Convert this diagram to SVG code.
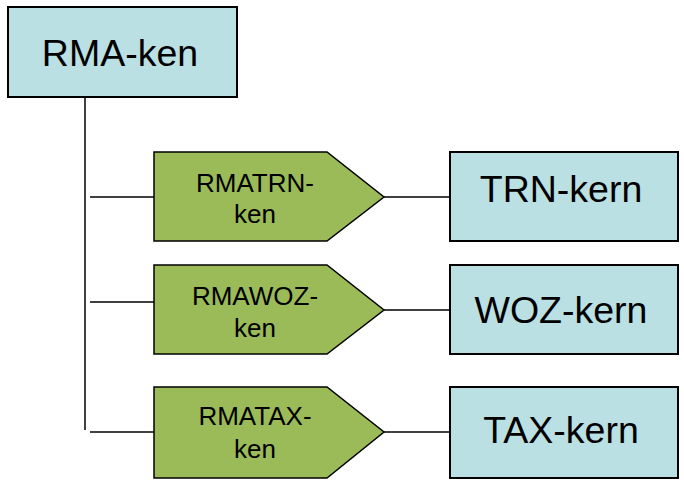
<svg xmlns="http://www.w3.org/2000/svg" width="684" height="483" viewBox="0 0 684 483">
<style>
.box{fill:#BBE0E3;stroke:#000;stroke-width:2}
.pent{fill:#9BBB59;stroke:#000;stroke-width:1.5}
.ln{stroke:#000;stroke-width:1.5;fill:none}
.big{font-family:"Liberation Sans",Arial,sans-serif;font-size:37.5px;fill:#000;text-anchor:middle}
.sm{font-family:"Liberation Sans",Arial,sans-serif;font-size:26px;fill:#000;text-anchor:middle}
</style>
<rect width="684" height="483" fill="#fff"/>
<g id="connectors">
<path class="ln" d="M85 97 V430"/>
<path class="ln" d="M90 197 H154"/>
<path class="ln" d="M90 302 H154"/>
<path class="ln" d="M90 432 H154"/>
<path class="ln" d="M384 197 H450"/>
<path class="ln" d="M384 310 H450"/>
<path class="ln" d="M384 432 H450"/>
</g>
<g id="rma-ken">
<rect class="box" x="8" y="7" width="229" height="90"/>
<text class="big" x="120" y="66">RMA-ken</text>
</g>
<g id="rmatrn-ken">
<polygon class="pent" points="154,152 327,152 384,197 327,241 154,241"/>
<text class="sm" x="255" y="192">RMATRN-</text>
<text class="sm" x="255" y="223">ken</text>
</g>
<g id="rmawoz-ken">
<polygon class="pent" points="154,265 327,265 384,310 327,354 154,354"/>
<text class="sm" x="255" y="305">RMAWOZ-</text>
<text class="sm" x="255" y="337">ken</text>
</g>
<g id="rmatax-ken">
<polygon class="pent" points="154,387 327,387 384,432 327,478 154,478"/>
<text class="sm" x="255" y="425">RMATAX-</text>
<text class="sm" x="255" y="458">ken</text>
</g>
<g id="trn-kern">
<rect class="box" x="450" y="152" width="228" height="89"/>
<text class="big" x="561" y="202">TRN-kern</text>
</g>
<g id="woz-kern">
<rect class="box" x="450" y="265" width="228" height="89"/>
<text class="big" x="561" y="323">WOZ-kern</text>
</g>
<g id="tax-kern">
<rect class="box" x="450" y="387" width="228" height="91"/>
<text class="big" x="561" y="443">TAX-kern</text>
</g>
</svg>
